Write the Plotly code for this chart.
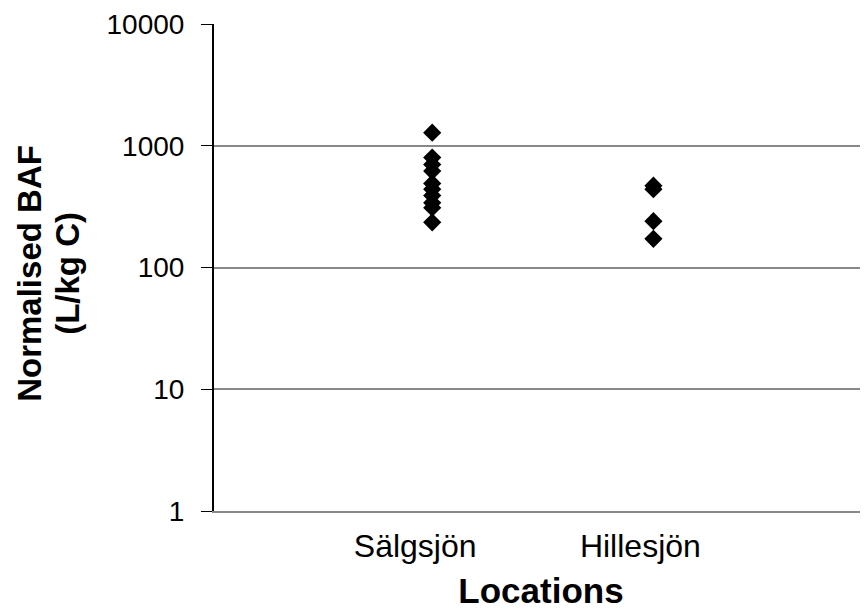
import plotly.graph_objects as go

categories = ["Sälgsjön", "Hillesjön"]
category_label_pos = [0.923, 1.941]
salgsjon_baf = [1280, 800, 700, 620, 490, 440, 390, 340, 310, 235]
hillesjon_baf = [470, 440, 240, 172]
y_ticks = [1, 10, 100, 1000, 10000]
y_title_lines = ["Normalised BAF", "(L/kg C)"]

fig = go.Figure()
fig.add_trace(go.Scatter(
    x=[1] * len(salgsjon_baf), y=salgsjon_baf, mode="markers",
    marker=dict(symbol="diamond", size=14, color="black"), showlegend=False))
fig.add_trace(go.Scatter(
    x=[2] * len(hillesjon_baf), y=hillesjon_baf, mode="markers",
    marker=dict(symbol="diamond", size=14, color="black"), showlegend=False))

font_family = "Liberation Sans, Arial, sans-serif"
L, T, B, W, H = 206, 16, 99, 860, 602
title_centers_px = [22, 60]
fig.update_layout(
    width=W, height=H,
    margin=dict(l=L, r=0, t=T, b=B),
    paper_bgcolor="white", plot_bgcolor="white",
    font=dict(family=font_family, color="black", size=20),
    xaxis=dict(
        range=[0.0136, 2.97], tickvals=category_label_pos, ticktext=categories,
        showgrid=False, zeroline=False, showline=True, linecolor="#888888", linewidth=2,
        ticks="", tickfont=dict(size=32), automargin=False, ticklabelstandoff=6,
        title=dict(text="<b>Locations</b>", font=dict(size=35), standoff=17),
    ),
    yaxis=dict(
        type="log", range=[0, 4], tickvals=y_ticks, ticktext=[str(v) for v in y_ticks],
        showgrid=True, gridcolor="#888888", gridwidth=2, zeroline=False,
        showline=True, linecolor="black", linewidth=2,
        ticks="outside", ticklen=11, tickcolor="black", tickwidth=1,
        tickfont=dict(size=28), ticklabelstandoff=11, automargin=False,
    ),
    annotations=[dict(
        text="<b>" + line + "</b>", textangle=-90,
        xref="paper", yref="paper", x=(cx - L) / (W - L), y=0.487,
        xanchor="center", yanchor="middle", showarrow=False, borderpad=0,
        font=dict(size=33, family=font_family, color="black"),
    ) for line, cx in zip(y_title_lines, title_centers_px)],
)
fig.write_html("out.html")
